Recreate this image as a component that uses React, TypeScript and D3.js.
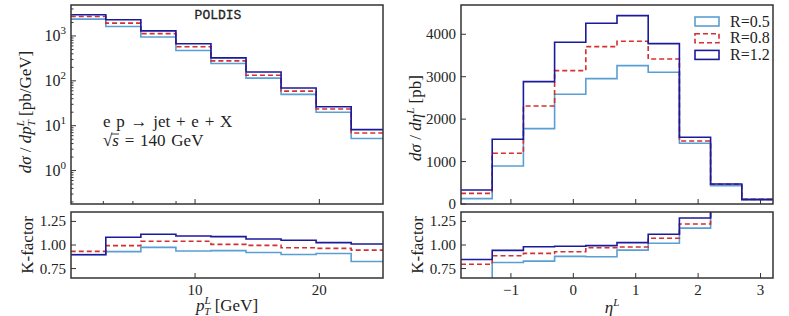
import * as d3 from "d3";

// pT distribution (left)
const ptEdges = [0, 2.82, 5.64, 8.46, 11.28, 14.1, 16.92, 19.74, 22.56, 25.38];
const ptR05 = [2370, 1620, 950, 476, 243, 115, 50, 20, 5.2];
const ptR08 = [2720, 1930, 1130, 576, 279, 133, 59, 23.5, 6.9];
const ptR12 = [2970, 2290, 1300, 672, 325, 157, 69, 26.5, 8.2];
const ptK05 = [0.9, 0.93, 0.975, 0.936, 0.94, 0.92, 0.9, 0.91, 0.825];
const ptK08 = [0.932, 0.993, 1.04, 1.04, 1.007, 0.996, 0.971, 0.964, 0.946];
const ptK12 = [0.896, 1.082, 1.114, 1.096, 1.089, 1.064, 1.05, 1.025, 1.01];

// eta distribution (right)
const etaEdges = [-1.8, -1.3, -0.8, -0.3, 0.2, 0.7, 1.2, 1.7, 2.2, 2.7, 3.2];
const etaR05 = [126, 896, 1776, 2585, 2955, 3261, 3104, 1430, 432, 94];
const etaR08 = [250, 1195, 2310, 3143, 3709, 3835, 3418, 1485, 464, 110];
const etaR12 = [330, 1525, 2884, 3811, 4259, 4440, 3780, 1572, 472, 110];
const etaK05 = [0.55, 0.814, 0.829, 0.879, 0.875, 0.946, 1.018, 1.179, 1.5, 1.5];
const etaK08 = [0.796, 0.886, 0.911, 0.929, 0.971, 0.979, 1.071, 1.222, 1.5, 1.5];
const etaK12 = [0.846, 0.943, 0.982, 0.986, 0.993, 1.025, 1.114, 1.286, 1.5, 1.5];

const ptTicks = [10, 20];
const ptMinorTicks = [2.62, 5.0, 8.47];
const etaTicks = [-1, 0, 1, 2, 3];
const etaYTicks = [0, 1000, 2000, 3000, 4000];
const logMajor = [1, 10, 100, 1000];
const kTicks = [0.75, 1.0, 1.25];

const legendLabels = ["R=0.5", "R=0.8", "R=1.2"];
const colors = ["#5a9fd4", "#d3302f", "#1c1a9c"];
const dashes = [null, "5,3", null];

const FONT = "'Liberation Serif', serif";
const FRAME = "#333";

const L = { x0: 71, x1: 383 };
const R = { x0: 461, x1: 773 };
const TOP = { y0: 5, y1: 204 };
const BOT = { y0: 212, y1: 278 };

function stepPath(edges: number[], vals: number[], x: any, y: any) {
  const pts: [number, number][] = vals.map((v, i) => [x(edges[i]), y(v)]);
  pts.push([x(edges[vals.length]), y(vals[vals.length - 1])]);
  return d3.line().curve(d3.curveStepAfter)(pts) || "";
}

function Hists({ id, edges, sets, x, y, box }: any) {
  return (
    <g>
      <clipPath id={id}>
        <rect x={box.x0} y={box.y0} width={box.x1 - box.x0} height={box.y1 - box.y0} />
      </clipPath>
      <g clipPath={`url(#${id})`}>
        {sets.map((vals: number[], i: number) => (
          <path key={i} d={stepPath(edges, vals, x, y)} fill="none" stroke={colors[i]}
            strokeWidth={1.6} strokeDasharray={dashes[i] || undefined} />
        ))}
      </g>
    </g>
  );
}

function Frame({ box }: any) {
  return <rect x={box.x0} y={box.y0} width={box.x1 - box.x0} height={box.y1 - box.y0}
    fill="none" stroke={FRAME} strokeWidth={1.5} />;
}

function KLabel({ x }: any) {
  return <text transform={`translate(${x},245) rotate(-90)`} textAnchor="middle" fontFamily={FONT}
    fontSize={17} fill="#222">K-factor</text>;
}

export default function App() {
  const xPt = d3.scaleLinear().domain([0.02, 25.12]).range([L.x0, L.x1]);
  const xEta = d3.scaleLinear().domain([-1.8, 3.2]).range([R.x0, R.x1]);
  const yLog = d3.scaleLog().domain([0.18, 4900]).range([TOP.y1, TOP.y0]);
  const yEta = d3.scaleLinear().domain([0, 4690]).range([TOP.y1, TOP.y0]);
  const yKL = d3.scaleLinear().domain([0.65, 1.35]).range([BOT.y1, BOT.y0]);
  const yKR = d3.scaleLinear().domain([0.65, 1.35]).range([BOT.y1, BOT.y0]);

  const logMinor = yLog.ticks().filter((t) => !logMajor.includes(t));

  const tickStyle = { stroke: FRAME, strokeWidth: 1 };
  const lbl = { fontFamily: FONT, fontSize: 15, fill: "#222" };

  return (
    <svg width={789} height={316} style={{ position: "absolute", left: 0, top: 0, background: "#fff" }}>
      {/* ---------- left top ---------- */}
      <Hists id="clipLT" edges={ptEdges} sets={[ptR05, ptR08, ptR12]} x={xPt} y={yLog}
        box={{ x0: L.x0, x1: L.x1, y0: TOP.y0, y1: TOP.y1 }} />
      {logMajor.map((t) => (
        <g key={t}>
          <line x1={L.x0} x2={L.x0 + 5} y1={yLog(t)} y2={yLog(t)} {...tickStyle} />
          <text x={L.x0 - 5} y={yLog(t) + 5} textAnchor="end" {...lbl} fontSize={16}>
            10<tspan fontSize={11} dy={-7}>{Math.round(Math.log10(t))}</tspan>
          </text>
        </g>
      ))}
      {logMinor.map((t, i) => (
        <line key={i} x1={L.x0} x2={L.x0 + 2.5} y1={yLog(t)} y2={yLog(t)} {...tickStyle} />
      ))}
      {ptTicks.map((t) => (
        <line key={t} x1={xPt(t)} x2={xPt(t)} y1={TOP.y1} y2={TOP.y1 - 5} {...tickStyle} />
      ))}
      {ptMinorTicks.map((t) => (
        <line key={t} x1={xPt(t)} x2={xPt(t)} y1={TOP.y1} y2={TOP.y1 - 3} {...tickStyle} />
      ))}
      <Frame box={{ x0: L.x0, x1: L.x1, y0: TOP.y0, y1: TOP.y1 }} />
      <text x={218} y={19} textAnchor="middle" fontFamily="'Liberation Mono', monospace" fontSize={13}
        fill="#222" stroke="#222" strokeWidth={0.3}>POLDIS</text>
      <text x={103} y={127} fontFamily={FONT} fontSize={17} fill="#222" wordSpacing={1.5}>
        e p → jet + e + X
      </text>
      <text x={103} y={146} fontFamily={FONT} fontSize={17} fill="#222" wordSpacing={1.5}>
        √<tspan fontStyle="italic">s</tspan> = 140 GeV
      </text>
      <line x1={111.5} x2={119} y1={134} y2={134} stroke="#222" strokeWidth={0.9} />
      <text transform="translate(31,112) rotate(-90)" textAnchor="middle" fontFamily={FONT} fontSize={17} fill="#222">
        <tspan fontStyle="italic">dσ</tspan> / <tspan fontStyle="italic">dp</tspan>
        <tspan fontStyle="italic" fontSize={11} dy={-7}>L</tspan>
        <tspan fontStyle="italic" fontSize={11} dx={-6} dy={11}>T</tspan>
        <tspan dy={-4}> [pb/GeV]</tspan>
      </text>

      {/* ---------- left bottom ---------- */}
      <Hists id="clipLB" edges={ptEdges} sets={[ptK05, ptK08, ptK12]} x={xPt} y={yKL}
        box={{ x0: L.x0, x1: L.x1, y0: BOT.y0, y1: BOT.y1 }} />
      {kTicks.map((t) => (
        <g key={t}>
          <line x1={L.x0} x2={L.x0 + 5} y1={yKL(t)} y2={yKL(t)} {...tickStyle} />
          <text x={L.x0 - 5} y={yKL(t) + 5} textAnchor="end" {...lbl}>{t.toFixed(2)}</text>
        </g>
      ))}
      {ptTicks.map((t) => (
        <g key={t}>
          <line x1={xPt(t)} x2={xPt(t)} y1={BOT.y1} y2={BOT.y1 - 5} {...tickStyle} />
          <text x={xPt(t)} y={295} textAnchor="middle" {...lbl}>{t}</text>
        </g>
      ))}
      <Frame box={{ x0: L.x0, x1: L.x1, y0: BOT.y0, y1: BOT.y1 }} />
      <KLabel x={33} />
      <text x={227} y={311} textAnchor="middle" fontFamily={FONT} fontSize={17} fill="#222">
        <tspan fontStyle="italic">p</tspan>
        <tspan fontStyle="italic" fontSize={11} dy={-7}>L</tspan>
        <tspan fontStyle="italic" fontSize={11} dx={-6} dy={11}>T</tspan>
        <tspan dy={-4}> [GeV]</tspan>
      </text>

      {/* ---------- right top ---------- */}
      <Hists id="clipRT" edges={etaEdges} sets={[etaR05, etaR08, etaR12]} x={xEta} y={yEta}
        box={{ x0: R.x0, x1: R.x1, y0: TOP.y0, y1: TOP.y1 }} />
      {etaYTicks.map((t) => (
        <g key={t}>
          <line x1={R.x0} x2={R.x0 + 5} y1={yEta(t)} y2={yEta(t)} {...tickStyle} />
          <text x={R.x0 - 5} y={yEta(t) + 5} textAnchor="end" {...lbl}>{t}</text>
        </g>
      ))}
      {etaTicks.map((t) => (
        <line key={t} x1={xEta(t)} x2={xEta(t)} y1={TOP.y1} y2={TOP.y1 - 5} {...tickStyle} />
      ))}
      <Frame box={{ x0: R.x0, x1: R.x1, y0: TOP.y0, y1: TOP.y1 }} />
      {legendLabels.map((s, i) => (
        <g key={s}>
          <rect x={695} y={17 + i * 16.7} width={24} height={9} fill="none" stroke={colors[i]}
            strokeWidth={1.6} strokeDasharray={dashes[i] || undefined} />
          <text x={730} y={26.5 + i * 16.7} fontFamily={FONT} fontSize={16} fill="#222">{s}</text>
        </g>
      ))}
      <text transform="translate(421,118) rotate(-90)" textAnchor="middle" fontFamily={FONT} fontSize={17} fill="#222">
        <tspan fontStyle="italic">dσ</tspan> / <tspan fontStyle="italic">dη</tspan>
        <tspan fontStyle="italic" fontSize={11} dy={-7}>L</tspan>
        <tspan dy={7}> [pb]</tspan>
      </text>

      {/* ---------- right bottom ---------- */}
      <Hists id="clipRB" edges={etaEdges} sets={[etaK05, etaK08, etaK12]} x={xEta} y={yKR}
        box={{ x0: R.x0, x1: R.x1, y0: BOT.y0, y1: BOT.y1 }} />
      {kTicks.map((t) => (
        <g key={t}>
          <line x1={R.x0} x2={R.x0 + 5} y1={yKR(t)} y2={yKR(t)} {...tickStyle} />
          <text x={R.x0 - 5} y={yKR(t) + 5} textAnchor="end" {...lbl}>{t.toFixed(2)}</text>
        </g>
      ))}
      {etaTicks.map((t) => (
        <g key={t}>
          <line x1={xEta(t)} x2={xEta(t)} y1={BOT.y1} y2={BOT.y1 - 5} {...tickStyle} />
          <text x={xEta(t)} y={295} textAnchor="middle" {...lbl}>{t < 0 ? `−${-t}` : t}</text>
        </g>
      ))}
      <Frame box={{ x0: R.x0, x1: R.x1, y0: BOT.y0, y1: BOT.y1 }} />
      <KLabel x={423} />
      <text x={612} y={313} textAnchor="middle" fontFamily={FONT} fontSize={17} fill="#222">
        <tspan fontStyle="italic">η</tspan>
        <tspan fontStyle="italic" fontSize={11} dy={-7}>L</tspan>
      </text>
    </svg>
  );
}
